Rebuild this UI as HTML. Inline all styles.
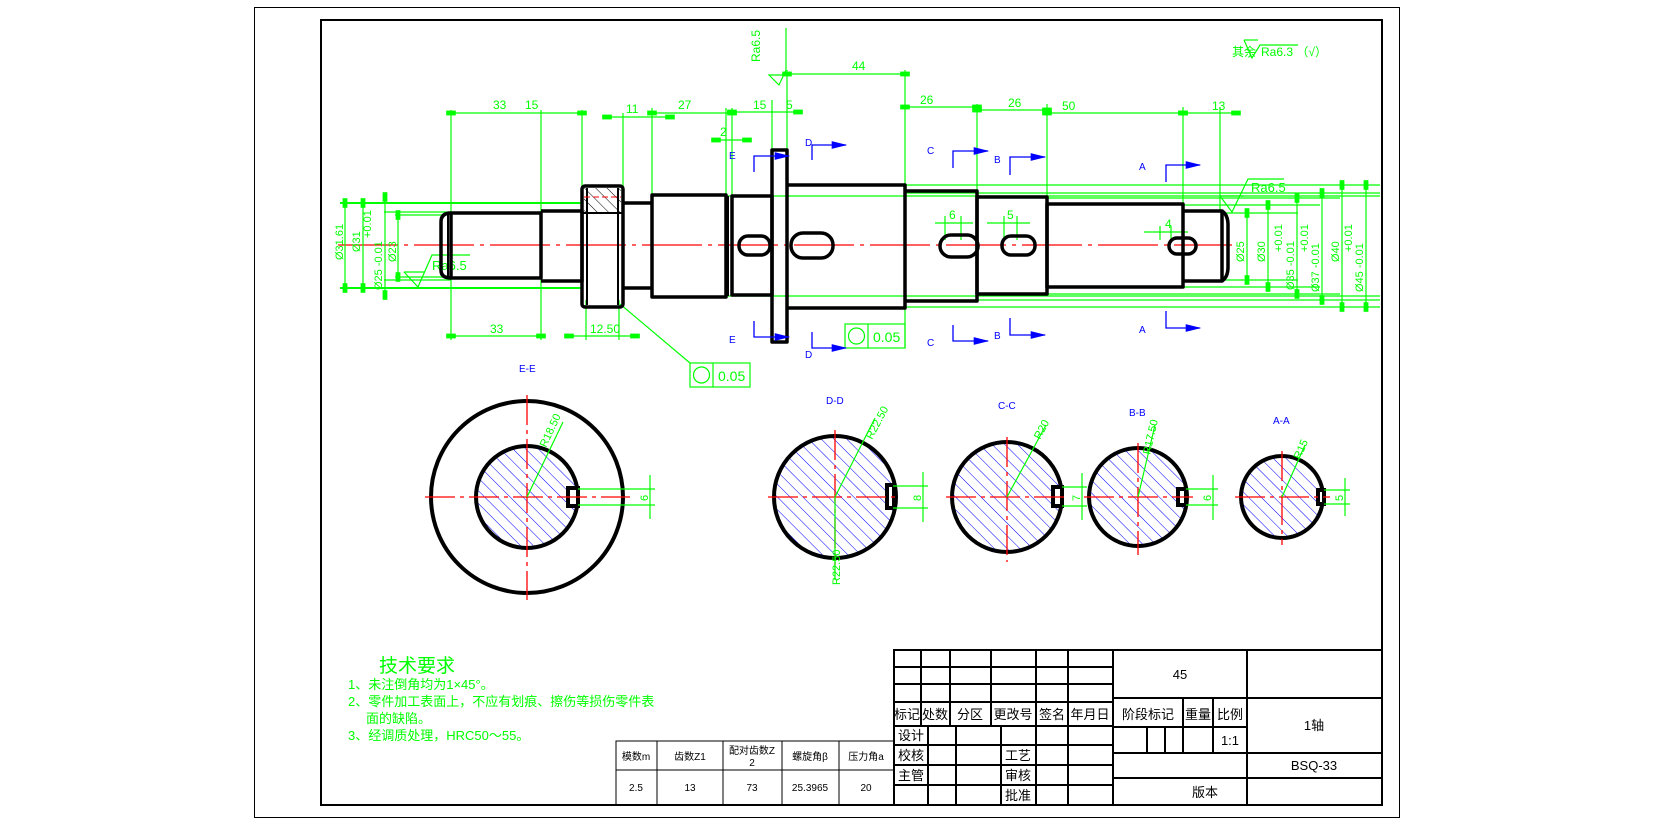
<!DOCTYPE html>
<html><head><meta charset="utf-8"><style>
html,body{margin:0;padding:0;background:#fff;}
svg{display:block;}
text{font-family:"Liberation Sans","Noto Sans CJK SC",sans-serif;}
</style></head><body>
<svg width="1653" height="825" viewBox="0 0 1653 825" xmlns="http://www.w3.org/2000/svg">
<defs>
<pattern id="hb" patternUnits="userSpaceOnUse" width="9" height="9" patternTransform="rotate(-45)">
<line x1="0" y1="0" x2="0" y2="9" stroke="#0000ff" stroke-width="1"/></pattern>
<pattern id="hk" patternUnits="userSpaceOnUse" width="8" height="8" patternTransform="rotate(-45)">
<line x1="0" y1="0" x2="0" y2="8" stroke="#000" stroke-width="1"/></pattern>
<marker id="ga" markerWidth="8" markerHeight="4" refX="4" refY="2" orient="auto"><rect x="0" y="0" width="8" height="4" fill="#00ff00"/></marker>
<marker id="ba" markerWidth="12" markerHeight="6" refX="11" refY="3" orient="auto"><path d="M0,0 L12,3 L0,6z" fill="#0000ff"/></marker>
</defs>
<rect x="0" y="0" width="1653" height="825" fill="#fff"/>
<!-- frames -->
<rect x="254.5" y="7.5" width="1145" height="810" fill="none" stroke="#000" stroke-width="1"/>
<rect x="321" y="20" width="1061" height="785" fill="none" stroke="#000" stroke-width="2"/>

<!-- centerline -->
<line x1="338" y1="245" x2="1232" y2="245" stroke="#ff0000" stroke-width="1.3" stroke-dasharray="60,6,4,6"/>

<!-- green extension lines -->
<g stroke="#00ff00" stroke-width="1.2" fill="none">
<line x1="340" y1="203" x2="582" y2="203" stroke-width="2"/>
<line x1="340" y1="288" x2="582" y2="288" stroke-width="2"/>
<line x1="384" y1="212" x2="451" y2="212"/>
<line x1="384" y1="280" x2="451" y2="280"/>
<line x1="395" y1="215" x2="448" y2="215"/>
<line x1="395" y1="277" x2="448" y2="277"/>
<line x1="726" y1="196" x2="1380" y2="196"/>
<line x1="726" y1="296" x2="1380" y2="296"/>
<line x1="905" y1="185" x2="1380" y2="185"/>
<line x1="905" y1="307" x2="1380" y2="307"/>
<line x1="905" y1="193" x2="1380" y2="193"/>
<line x1="905" y1="300" x2="1380" y2="300"/>
<line x1="1047" y1="198" x2="1340" y2="198"/>
<line x1="1047" y1="294" x2="1340" y2="294"/>
<line x1="1183" y1="205" x2="1320" y2="205"/>
<line x1="1183" y1="287" x2="1320" y2="287"/>
<line x1="1222" y1="213" x2="1298" y2="213"/>
<line x1="1222" y1="280" x2="1298" y2="280"/>
<!-- vertical ext lines top -->
<line x1="451" y1="110" x2="451" y2="340"/>
<line x1="541" y1="110" x2="541" y2="340"/>
<line x1="582" y1="110" x2="582" y2="200"/>
<line x1="623" y1="113" x2="623" y2="190"/>
<line x1="652" y1="108" x2="652" y2="195"/>
<line x1="726" y1="108" x2="726" y2="196"/>
<line x1="732" y1="108" x2="732" y2="196"/>
<line x1="772" y1="100" x2="772" y2="150"/>
<line x1="787" y1="70" x2="787" y2="150"/>
<line x1="905" y1="70" x2="905" y2="348"/>
<line x1="977" y1="104" x2="977" y2="191"/>
<line x1="1047" y1="104" x2="1047" y2="197"/>
<line x1="1183" y1="107" x2="1183" y2="204"/>
<line x1="1220" y1="107" x2="1220" y2="211"/>
<line x1="586" y1="300" x2="586" y2="340"/>
<line x1="619" y1="300" x2="619" y2="340"/>
<!-- dim lines -->
<line x1="451" y1="113" x2="582" y2="113" marker-start="url(#ga)" marker-end="url(#ga)"/>
<line x1="607" y1="117" x2="670" y2="117" marker-start="url(#ga)" marker-end="url(#ga)"/>
<line x1="652" y1="113" x2="732" y2="113" marker-start="url(#ga)" marker-end="url(#ga)"/>
<line x1="732" y1="112" x2="798" y2="112" marker-start="url(#ga)" marker-end="url(#ga)"/>
<line x1="716" y1="140" x2="747" y2="140" marker-start="url(#ga)" marker-end="url(#ga)"/>
<line x1="787" y1="74" x2="905" y2="74" marker-start="url(#ga)" marker-end="url(#ga)"/>
<line x1="905" y1="107" x2="977" y2="107" marker-start="url(#ga)" marker-end="url(#ga)"/>
<line x1="977" y1="110" x2="1047" y2="110" marker-start="url(#ga)" marker-end="url(#ga)"/>
<line x1="1047" y1="113" x2="1183" y2="113" marker-start="url(#ga)" marker-end="url(#ga)"/>
<line x1="1183" y1="113" x2="1236" y2="113" marker-start="url(#ga)" marker-end="url(#ga)"/>
<line x1="451" y1="336" x2="541" y2="336" marker-start="url(#ga)" marker-end="url(#ga)"/>
<line x1="569" y1="336" x2="635" y2="336" marker-start="url(#ga)" marker-end="url(#ga)"/>
<line x1="345" y1="203" x2="345" y2="288" marker-start="url(#ga)" marker-end="url(#ga)"/>
<line x1="363" y1="203" x2="363" y2="288" marker-start="url(#ga)" marker-end="url(#ga)"/>
<line x1="385" y1="197" x2="385" y2="295" marker-start="url(#ga)" marker-end="url(#ga)"/>
<line x1="398" y1="215" x2="398" y2="277" marker-start="url(#ga)" marker-end="url(#ga)"/>
<line x1="1247" y1="213" x2="1247" y2="280" marker-start="url(#ga)" marker-end="url(#ga)"/>
<line x1="1268" y1="205" x2="1268" y2="287" marker-start="url(#ga)" marker-end="url(#ga)"/>
<line x1="1297" y1="198" x2="1297" y2="294" marker-start="url(#ga)" marker-end="url(#ga)"/>
<line x1="1322" y1="193" x2="1322" y2="300" marker-start="url(#ga)" marker-end="url(#ga)"/>
<line x1="1342" y1="185" x2="1342" y2="307" marker-start="url(#ga)" marker-end="url(#ga)"/>
<line x1="1366" y1="185" x2="1366" y2="307" marker-start="url(#ga)" marker-end="url(#ga)"/>
<!-- slot dims -->
<line x1="935" y1="223" x2="973" y2="223"/><line x1="945" y1="216" x2="945" y2="240"/><line x1="961" y1="216" x2="961" y2="240"/>
<line x1="987" y1="223" x2="1030" y2="223"/><line x1="1004" y1="216" x2="1004" y2="240"/><line x1="1017" y1="216" x2="1017" y2="240"/>
<line x1="1144" y1="232" x2="1188" y2="232"/><line x1="1160" y1="226" x2="1160" y2="240"/><line x1="1171" y1="226" x2="1171" y2="240"/>
<!-- Ra symbols -->
<polyline points="404,272 418,287 432,255 470,255"/>
<line x1="404" y1="272" x2="425" y2="272"/>
<polyline points="1220,196 1232,212 1248,179 1284,179"/>
<line x1="1220" y1="196" x2="1244" y2="196"/>
<polyline points="786,28 786,70 779,85 769,75 786,75"/>
<polyline points="1244,40 1252,58 1260,45 1298,45"/>
<line x1="1244" y1="40" x2="1258" y2="40"/>
<!-- tolerance -->
<rect x="845" y="324" width="60" height="24"/><line x1="868" y1="324" x2="868" y2="348"/>
<circle cx="856.5" cy="336" r="8"/>
<rect x="690" y="363" width="60" height="24"/><line x1="713" y1="363" x2="713" y2="387"/>
<circle cx="701.5" cy="375" r="8"/>
<line x1="620" y1="304" x2="690" y2="363"/>
</g>
<g fill="#00ff00" font-size="12">
<text x="493" y="109">33</text><text x="525" y="109">15</text>
<text x="626" y="113">11</text><text x="678" y="109">27</text>
<text x="753" y="109">15</text><text x="786" y="109">5</text>
<text x="720" y="136">2</text><text x="852" y="70">44</text>
<text x="920" y="104">26</text><text x="1008" y="107">26</text><text x="1062" y="110">50</text><text x="1212" y="110">13</text>
<text x="490" y="333">33</text><text x="590" y="333">12.50</text>
<text x="949" y="219">6</text><text x="1007" y="219">5</text><text x="1165" y="228">4</text>
<text x="432" y="270" font-size="13">Ra6.5</text>
<text x="1251" y="192" font-size="13">Ra6.5</text>
<text x="1232" y="56" font-size="12">其余</text><text x="1261" y="56" font-size="12">Ra6.3 （√）</text>
<text transform="translate(760,62) rotate(-90)" font-size="12">Ra6.5</text>
<text x="873" y="342" font-size="14">0.05</text><text x="718" y="381" font-size="14">0.05</text>
<text transform="translate(343,260) rotate(-90)" font-size="11">Ø31.61</text>
<text transform="translate(360,252) rotate(-90)" font-size="11">Ø31</text>
<text transform="translate(371,238) rotate(-90)" font-size="11">+0.01</text>
<text transform="translate(382,290) rotate(-90)" font-size="11">Ø25 -0.01</text>
<text transform="translate(396,262) rotate(-90)" font-size="11">Ø23</text>
<text transform="translate(1244,262) rotate(-90)" font-size="11">Ø25</text>
<text transform="translate(1265,262) rotate(-90)" font-size="11">Ø30</text>
<text transform="translate(1282,252) rotate(-90)" font-size="11">+0.01</text>
<text transform="translate(1294,290) rotate(-90)" font-size="11">Ø35 -0.01</text>
<text transform="translate(1308,252) rotate(-90)" font-size="11">+0.01</text>
<text transform="translate(1319,292) rotate(-90)" font-size="11">Ø37 -0.01</text>
<text transform="translate(1339,262) rotate(-90)" font-size="11">Ø40</text>
<text transform="translate(1352,252) rotate(-90)" font-size="11">+0.01</text>
<text transform="translate(1363,292) rotate(-90)" font-size="11">Ø45 -0.01</text>
</g>

<!-- shaft -->
<g stroke="#000" stroke-width="3.5" fill="none" stroke-linejoin="round">
<path d="M451,213 H541 V278 H451 Z"/>
<path d="M451,213 Q441,213 441,222 V270 Q441,278 451,278"/>
<line x1="448" y1="213" x2="448" y2="278" stroke-width="2"/>
<path d="M541,211 H582 V281 H541"/>
<rect x="582" y="186" width="41" height="121" rx="3" fill="url(#hk)" fill-opacity="0"/>
<line x1="582" y1="213" x2="623" y2="213" stroke-width="2"/>
<line x1="587" y1="188" x2="587" y2="305" stroke-width="2"/>
<line x1="618" y1="188" x2="618" y2="305" stroke-width="2"/>
<path d="M623,203 H652 M623,288 H652"/>
<rect x="652" y="195" width="74" height="102"/>
<line x1="728" y1="196" x2="728" y2="296" stroke-width="2"/>
<rect x="732" y="196" width="40" height="99"/>
<rect x="772" y="150" width="15" height="192"/>
<path d="M787,185 H905 V308 H787"/>
<path d="M905,191 H977 V301 H905"/>
<rect x="977" y="197" width="70" height="97"/>
<rect x="1047" y="204" width="136" height="83"/>
<path d="M1183,211 H1222 V281 H1183"/>
<path d="M1222,211 Q1228,215 1228,225 V267 Q1228,277 1222,281"/>
<rect x="739" y="236" width="31" height="19" rx="9"/>
<rect x="791" y="233" width="42" height="25" rx="12"/>
<rect x="940" y="235" width="38" height="22" rx="11"/>
<rect x="1002" y="236" width="33" height="19" rx="9"/>
<rect x="1169" y="238" width="27" height="16" rx="8"/>
</g>
<rect x="584" y="188" width="37" height="24" fill="url(#hk)"/>
<line x1="584" y1="197" x2="621" y2="197" stroke="#ff0000" stroke-dasharray="6,3"/>

<!-- section markers -->
<g stroke="#0000ff" stroke-width="1.3" fill="none">
<polyline points="754,172 754,156 789,156" marker-end="url(#ba)"/>
<polyline points="754,321 754,337 789,337" marker-end="url(#ba)"/>
<polyline points="812,160 812,145 846,145" marker-end="url(#ba)"/>
<polyline points="812,332 812,348 846,348" marker-end="url(#ba)"/>
<polyline points="953,168 953,151 988,151" marker-end="url(#ba)"/>
<polyline points="953,325 953,341 988,341" marker-end="url(#ba)"/>
<polyline points="1010,175 1010,157 1045,157" marker-end="url(#ba)"/>
<polyline points="1010,318 1010,335 1045,335" marker-end="url(#ba)"/>
<polyline points="1166,182 1166,165 1200,165" marker-end="url(#ba)"/>
<polyline points="1166,311 1166,328 1200,328" marker-end="url(#ba)"/>
</g>
<g fill="#0000ff" font-size="10">
<text x="729" y="159">E</text><text x="729" y="343">E</text>
<text x="805" y="146">D</text><text x="805" y="358">D</text>
<text x="927" y="154">C</text><text x="927" y="346">C</text>
<text x="994" y="163">B</text><text x="994" y="339">B</text>
<text x="1139" y="170">A</text><text x="1139" y="333">A</text>
<text x="519" y="372">E-E</text><text x="826" y="404">D-D</text>
<text x="998" y="409">C-C</text><text x="1129" y="416">B-B</text><text x="1273" y="424">A-A</text>
</g>

<!-- sections -->
<g stroke="#000" stroke-width="4" fill="none">
<circle cx="527" cy="497" r="96"/>
<circle cx="527" cy="497" r="51" fill="url(#hb)"/>
<rect x="568" y="488" width="10" height="18" fill="#fff"/>
<circle cx="835" cy="497" r="61" fill="url(#hb)"/>
<rect x="887" y="485" width="7" height="23" fill="#fff"/>
<circle cx="1007" cy="497" r="55" fill="url(#hb)"/>
<rect x="1053" y="487" width="9" height="19" fill="#fff"/>
<circle cx="1138" cy="497" r="49" fill="url(#hb)"/>
<rect x="1178" y="489" width="8" height="16" fill="#fff"/>
<circle cx="1282" cy="497" r="41" fill="url(#hb)"/>
<rect x="1318" y="490" width="6" height="14" fill="#fff"/>
</g>
<g stroke="#ff0000" stroke-width="1.3" stroke-dasharray="30,5,4,5">
<line x1="425" y1="497" x2="630" y2="497"/><line x1="527" y1="395" x2="527" y2="600"/>
<line x1="768" y1="497" x2="900" y2="497"/><line x1="835" y1="430" x2="835" y2="565"/>
<line x1="946" y1="497" x2="1068" y2="497"/><line x1="1007" y1="437" x2="1007" y2="562"/>
<line x1="1084" y1="497" x2="1193" y2="497"/><line x1="1138" y1="443" x2="1138" y2="555"/>
<line x1="1235" y1="497" x2="1330" y2="497"/><line x1="1282" y1="451" x2="1282" y2="545"/>
</g>
<g stroke="#00ff00" stroke-width="1.2" fill="none">
<line x1="527" y1="497" x2="563" y2="422"/>
<line x1="835" y1="497" x2="875" y2="418"/><line x1="835" y1="497" x2="835" y2="580"/>
<line x1="1007" y1="497" x2="1046" y2="425"/>
<line x1="1138" y1="497" x2="1155" y2="425"/>
<line x1="1282" y1="497" x2="1305" y2="445"/>
<line x1="578" y1="489" x2="655" y2="489"/><line x1="578" y1="505" x2="655" y2="505"/><line x1="650" y1="475" x2="650" y2="519"/>
<line x1="893" y1="486" x2="928" y2="486"/><line x1="893" y1="508" x2="928" y2="508"/><line x1="923" y1="472" x2="923" y2="522"/>
<line x1="1062" y1="487" x2="1087" y2="487"/><line x1="1062" y1="506" x2="1087" y2="506"/><line x1="1082" y1="473" x2="1082" y2="520"/>
<line x1="1186" y1="489" x2="1218" y2="489"/><line x1="1186" y1="505" x2="1218" y2="505"/><line x1="1213" y1="475" x2="1213" y2="520"/>
<line x1="1324" y1="490" x2="1350" y2="490"/><line x1="1324" y1="504" x2="1350" y2="504"/><line x1="1345" y1="478" x2="1345" y2="516"/>
</g>
<g fill="#00ff00" font-size="11">
<text transform="translate(546,448) rotate(-65)">R18.50</text>
<text transform="translate(872,440) rotate(-62)">R22.50</text>
<text transform="translate(840,585) rotate(-90)">R22.50</text>
<text transform="translate(1040,440) rotate(-62)">R20</text>
<text transform="translate(1150,455) rotate(-77)">R17.50</text>
<text transform="translate(1300,460) rotate(-66)">R15</text>
<text transform="translate(648,501) rotate(-90)">6</text>
<text transform="translate(921,501) rotate(-90)">8</text>
<text transform="translate(1080,501) rotate(-90)">7</text>
<text transform="translate(1211,501) rotate(-90)">6</text>
<text transform="translate(1343,501) rotate(-90)">5</text>
</g>

<!-- technical requirements -->
<g fill="#00ff00">
<text x="379" y="672" font-size="19">技术要求</text>
<text x="348" y="689" font-size="13">1、未注倒角均为1×45°。</text>
<text x="348" y="706" font-size="13">2、零件加工表面上，不应有划痕、擦伤等损伤零件表</text>
<text x="366" y="723" font-size="13">面的缺陷。</text>
<text x="348" y="740" font-size="13">3、经调质处理，HRC50～55。</text>
</g>

<!-- gear table -->
<g stroke="#000" stroke-width="1" fill="none">
<rect x="616" y="741" width="278" height="64"/>
<line x1="616" y1="770" x2="894" y2="770"/>
<line x1="657" y1="741" x2="657" y2="805"/><line x1="723" y1="741" x2="723" y2="805"/>
<line x1="782" y1="741" x2="782" y2="805"/><line x1="839" y1="741" x2="839" y2="805"/>
</g>
<g font-size="10" fill="#000" text-anchor="middle">
<text x="636" y="760">模数m</text><text x="690" y="760">齿数Z1</text>
<text x="752" y="754">配对齿数Z</text><text x="752" y="766">2</text>
<text x="810" y="760">螺旋角β</text><text x="866" y="760">压力角a</text>
<text x="636" y="791">2.5</text><text x="690" y="791">13</text><text x="752" y="791">73</text>
<text x="810" y="791">25.3965</text><text x="866" y="791">20</text>
</g>

<!-- title block -->
<g stroke="#000" stroke-width="2" fill="none">
<rect x="894" y="650" width="488" height="155"/>
<line x1="894" y1="667" x2="1113" y2="667"/><line x1="894" y1="684" x2="1113" y2="684"/>
<line x1="894" y1="702" x2="1113" y2="702"/><line x1="894" y1="726" x2="1113" y2="726"/>
<line x1="894" y1="745" x2="1113" y2="745"/><line x1="894" y1="765" x2="1113" y2="765"/>
<line x1="894" y1="785" x2="1113" y2="785"/>
<line x1="921" y1="650" x2="921" y2="726"/><line x1="950" y1="650" x2="950" y2="726"/>
<line x1="991" y1="650" x2="991" y2="726"/><line x1="1036" y1="650" x2="1036" y2="805"/>
<line x1="1068" y1="650" x2="1068" y2="805"/>
<line x1="928" y1="726" x2="928" y2="805"/><line x1="956" y1="726" x2="956" y2="805"/>
<line x1="1001" y1="726" x2="1001" y2="805"/>
<line x1="1113" y1="650" x2="1113" y2="805"/><line x1="1247" y1="650" x2="1247" y2="805"/>
<line x1="1113" y1="698" x2="1382" y2="698"/>
<line x1="1113" y1="727" x2="1247" y2="727"/>
<line x1="1113" y1="753" x2="1382" y2="753"/>
<line x1="1113" y1="778" x2="1382" y2="778"/>
<line x1="1183" y1="698" x2="1183" y2="753"/><line x1="1213" y1="698" x2="1213" y2="753"/>
<line x1="1147" y1="727" x2="1147" y2="753"/><line x1="1165" y1="727" x2="1165" y2="753"/>
</g>
<g font-size="13" fill="#000" text-anchor="middle">
<text x="907" y="719">标记</text><text x="935" y="719">处数</text><text x="970" y="719">分区</text>
<text x="1013" y="719">更改号</text><text x="1052" y="719">签名</text><text x="1090" y="719">年月日</text>
<text x="911" y="740">设计</text><text x="911" y="760">校核</text><text x="911" y="780">主管</text>
<text x="1018" y="760">工艺</text><text x="1018" y="780">审核</text><text x="1018" y="800">批准</text>
<text x="1180" y="679">45</text>
<text x="1148" y="719">阶段标记</text><text x="1198" y="719">重量</text><text x="1230" y="719">比例</text>
<text x="1230" y="745">1:1</text>
<text x="1314" y="730">1轴</text>
<text x="1314" y="770">BSQ-33</text>
<text x="1205" y="797">版本</text>
</g>
</svg>
</body></html>
